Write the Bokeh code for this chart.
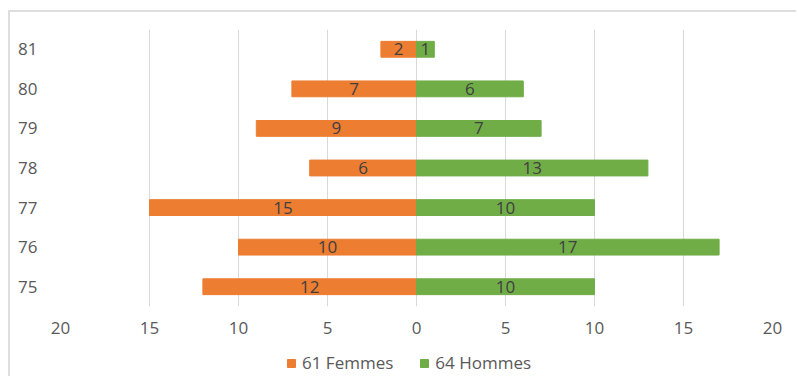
from bokeh.plotting import figure
from bokeh.layouts import column
from bokeh.models import ColumnDataSource, Legend, LegendItem, FixedTicker, Range1d, FactorRange
from bokeh.core.properties import value
from bokeh.embed import file_html
from bokeh.resources import INLINE

ages = ["75", "76", "77", "78", "79", "80", "81"]
femmes = [12, 10, 15, 6, 9, 7, 2]
hommes = [10, 17, 10, 13, 7, 6, 1]
x_ticks = [-20, -15, -10, -5, 0, 5, 10, 15, 20]
label_f = "61 Femmes"
label_h = "64 Hommes"

ORANGE = "#ED7D31"
GREEN = "#70AD47"
FONT = "Open Sans"
GRAY = "#595959"
FS = "17px"

src = ColumnDataSource(dict(
    age=ages,
    f_neg=[-v for v in femmes],
    h=hommes,
    f_mid=[-v / 2 for v in femmes],
    h_mid=[v / 2 for v in hommes],
    f_txt=[str(v) for v in femmes],
    h_txt=[str(v) for v in hommes],
))

p = figure(width=788, height=328, y_range=ages, x_range=Range1d(-20, 20),
           output_backend="svg", toolbar_location=None,
           min_border_left=50, min_border_right=26, min_border_top=17, min_border_bottom=34,
           margin=(10, 0, 0, 8))
p.styles = {"border-left": "2px solid #dedede", "border-top": "2px solid #dedede"}
p.outline_line_color = None
p.y_range.range_padding = 0

rf = p.hbar(y="age", left="f_neg", right=0, height=0.4, source=src, fill_color=ORANGE, line_color=ORANGE)
rh = p.hbar(y="age", left=0, right="h", height=0.4, source=src, fill_color=GREEN, line_color=GREEN)

p.text(x="f_mid", y="age", text="f_txt", source=src, text_align="center", text_baseline="middle",
       text_font=value(FONT), text_font_size=FS, text_color="#404040")
p.text(x="h_mid", y="age", text="h_txt", source=src, text_align="center", text_baseline="middle",
       text_font=value(FONT), text_font_size=FS, text_color="#404040")

p.xaxis.ticker = FixedTicker(ticks=x_ticks)
p.xaxis.major_label_overrides = {t: str(abs(t)) for t in x_ticks}
p.xgrid.ticker = FixedTicker(ticks=x_ticks)
p.xgrid.grid_line_color = "#d9d9d9"
p.ygrid.grid_line_color = None

for ax in (p.xaxis, p.yaxis):
    ax.axis_line_color = None
    ax.major_tick_line_color = None
    ax.minor_tick_line_color = None
    ax.major_label_text_font = FONT
    ax.major_label_text_font_size = FS
    ax.major_label_text_color = GRAY
p.xaxis.major_label_standoff = 9
p.yaxis.major_label_standoff = 17

# Legend strip: same bar renderers' styles; its own range holds none of the factors, so no bars show
p2 = figure(width=788, height=38, y_range=FactorRange(factors=["-"]), x_range=Range1d(-20, 20),
            x_axis_location=None, y_axis_location=None,
            output_backend="svg", toolbar_location=None,
            min_border_left=0, min_border_right=0, min_border_top=0, min_border_bottom=0,
            margin=(0, 0, 0, 8))
p2.styles = {"border-left": "2px solid #dedede"}
p2.grid.visible = False
p2.outline_line_color = None
lf = p2.hbar(y="age", left="f_neg", right=0, height=0.4, source=src, fill_color=ORANGE, line_color=ORANGE)
lh = p2.hbar(y="age", left=0, right="h", height=0.4, source=src, fill_color=GREEN, line_color=GREEN)

legend = Legend(items=[LegendItem(label=label_f, renderers=[lf]), LegendItem(label=label_h, renderers=[lh])],
                orientation="horizontal", location=(226, 2), border_line_color=None,
                background_fill_alpha=0,
                label_text_font=FONT, label_text_font_size=FS, label_text_color=GRAY,
                glyph_width=10, glyph_height=10, spacing=26, label_standoff=6, padding=4, margin=0)
p2.add_layout(legend, "center")

layout = column(p, p2, spacing=0)
open("out.html", "w").write(file_html(layout, INLINE))
